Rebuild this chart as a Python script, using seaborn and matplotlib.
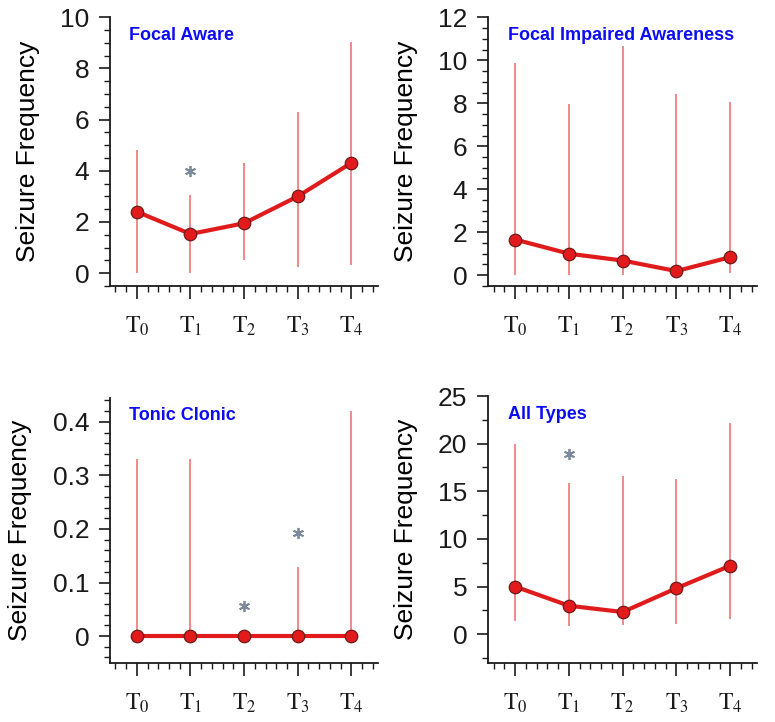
import numpy as np
import pandas as pd
import matplotlib
matplotlib.use('Agg')
import matplotlib.pyplot as plt
from matplotlib.ticker import MultipleLocator
import seaborn as sns

# time points
times = ['T0', 'T1', 'T2', 'T3', 'T4']
tick_labels = [r'$\mathrm{T}_{0}$', r'$\mathrm{T}_{1}$', r'$\mathrm{T}_{2}$',
               r'$\mathrm{T}_{3}$', r'$\mathrm{T}_{4}$']

# Focal Aware
fa_mean = [2.4, 1.53, 1.95, 3.0, 4.31]
fa_lo = [0.0, 0.0, 0.5, 0.24, 0.3]
fa_hi = [4.81, 3.07, 4.31, 6.3, 9.02]
fa_star = {'T1': 3.99}

# Focal Impaired Awareness
fia_mean = [1.66, 1.0, 0.68, 0.19, 0.84]
fia_lo = [0.0, 0.0, 0.0, 0.0, 0.1]
fia_hi = [9.88, 7.98, 10.65, 8.43, 8.06]
fia_star = {}

# Tonic Clonic
tc_mean = [0.0, 0.0, 0.0, 0.0, 0.0]
tc_lo = [0.0, 0.0, 0.0, 0.0, 0.0]
tc_hi = [0.33, 0.33, 0.0, 0.129, 0.42]
tc_star = {'T2': 0.057, 'T3': 0.193}

# All Types
all_mean = [5.0, 2.99, 2.33, 4.83, 7.19]
all_lo = [1.35, 0.87, 1.0, 1.08, 1.56]
all_hi = [19.97, 15.83, 16.63, 16.28, 22.19]
all_star = {'T1': 18.9}

sns.set_style('ticks', {'axes.edgecolor': '#1a1a1a', 'text.color': 'black',
                        'xtick.color': '#1a1a1a', 'ytick.color': '#1a1a1a',
                        'axes.labelcolor': 'black'})
plt.rcParams['font.family'] = ['Liberation Sans', 'DejaVu Sans']
plt.rcParams['mathtext.fontset'] = 'stix'

panels = [
    ('Focal Aware', fa_mean, fa_lo, fa_hi, fa_star, (-0.5, 10), 2, 0.5, [0.142, 0.604, 0.346, 0.372], -0.26),
    ('Focal Impaired Awareness', fia_mean, fia_lo, fia_hi, fia_star, (-0.5, 12), 2, 0.5, [0.630, 0.604, 0.347, 0.372], -0.26),
    ('Tonic Clonic', tc_mean, tc_lo, tc_hi, tc_star, (-0.05, 0.445), 0.1, 0.02, [0.142, 0.082, 0.346, 0.367], -0.29),
    ('All Types', all_mean, all_lo, all_hi, all_star, (-3, 25), 5, 2.5, [0.630, 0.082, 0.347, 0.3695], -0.26),
]

fig = plt.figure(figsize=(7.75, 7.22), dpi=100)

for title, mean, lo, hi, stars, ylim, major, minor, rect, labx in panels:
    ax = fig.add_axes(rect)
    df = pd.DataFrame({'time': times, 'pos': np.arange(len(times)),
                       'mean': mean, 'lo': lo, 'hi': hi})

    # range lines
    ax.vlines(df['pos'], df['lo'], df['hi'], color='#f08080', lw=1.3, zorder=1)

    sns.lineplot(data=df, x='pos', y='mean', ax=ax, color='#e01b1b', lw=3,
                 marker='o', markersize=9, markerfacecolor='#e31a1c',
                 markeredgecolor='#6e1a1a', markeredgewidth=0.9, zorder=3)

    for t, yv in stars.items():
        ax.plot(times.index(t), yv, marker=(6, 2, 0), ms=8, mew=1.3,
                color='#7d8a9c', ls='none', zorder=4)

    ax.set_xlim(-0.5, 4.5)
    ax.set_xticks(df['pos'])
    ax.set_xticklabels(tick_labels, fontsize=17)
    ax.xaxis.set_minor_locator(MultipleLocator(0.2))
    ax.yaxis.set_major_locator(MultipleLocator(major))
    ax.yaxis.set_minor_locator(MultipleLocator(minor))
    ax.set_ylim(*ylim)
    ax.tick_params(axis='y', which='major', length=8, width=1.2, labelsize=19, pad=7)
    ax.tick_params(axis='y', which='minor', length=4, width=1.0)
    ax.tick_params(axis='x', which='major', length=9, width=1.2, pad=12)
    ax.tick_params(axis='x', which='minor', length=4.5, width=1.0)
    for s in ['left', 'bottom']:
        ax.spines[s].set_linewidth(1.3)
    sns.despine(ax=ax)

    ax.set_xlabel('')
    ax.set_ylabel('Seizure Frequency', fontsize=19)
    ax.yaxis.set_label_coords(labx, 0.5)
    if major == 0.1:
        ax.set_yticklabels(['0' if abs(v) < 1e-9 else f'{v:.1f}' for v in ax.get_yticks()])
        ax.set_ylim(*ylim)

    ax.annotate(title, xy=(0, 1), xycoords='axes fraction', xytext=(14, -13),
                textcoords='offset points', ha='left', va='center',
                fontsize=13, fontweight='bold', color='#0d0df5')

fig.savefig('out.png', dpi=100)
